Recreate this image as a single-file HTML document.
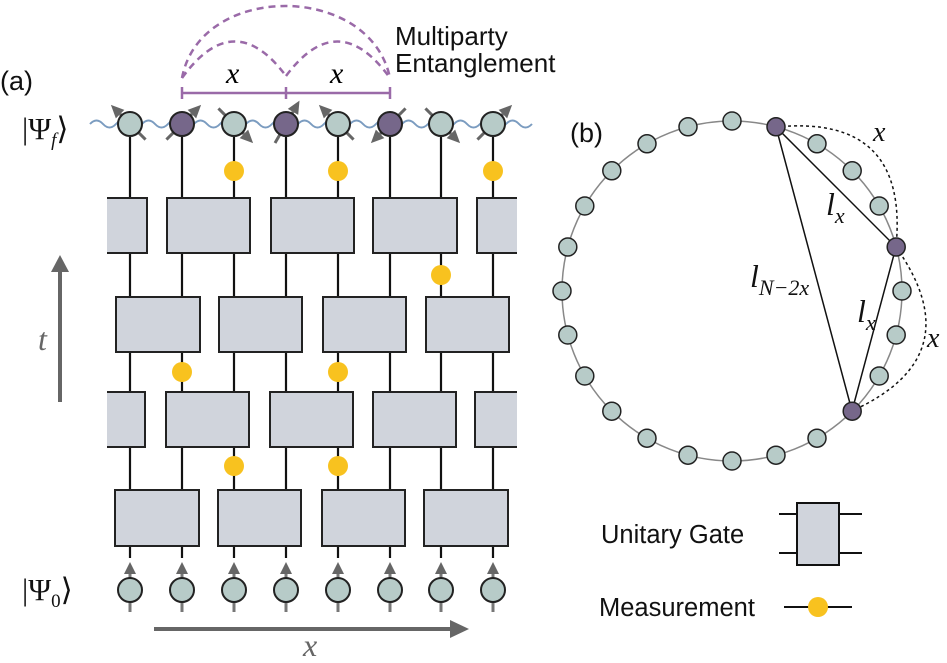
<!DOCTYPE html>
<html><head><meta charset="utf-8"><style>
body{margin:0;background:#fff}
svg{display:block}
.s{font-family:"Liberation Sans",sans-serif;fill:#111}
.m{font-family:"Liberation Serif",serif;font-style:italic}
</style></head><body>
<svg width="947" height="663" viewBox="0 0 947 663" xmlns="http://www.w3.org/2000/svg">
<defs>
<g id="tq"><line x1="0" y1="22" x2="0" y2="-14" stroke="#666" stroke-width="3"/><polygon points="0,-27 -6,-14 6,-14" fill="#666"/></g>
<g id="bq"><line x1="0" y1="572" x2="0" y2="612" stroke="#777" stroke-width="3"/><polygon points="0,562 -6,574 6,574" fill="#666"/><circle cx="0" cy="590" r="12" fill="#b7cbc8" stroke="#222" stroke-width="2"/></g>
</defs>
<g stroke="#111" stroke-width="2.2">
<line x1="130" y1="137" x2="130" y2="558"/><line x1="182" y1="137" x2="182" y2="558"/>
<line x1="234" y1="137" x2="234" y2="558"/><line x1="286" y1="137" x2="286" y2="558"/>
<line x1="338" y1="137" x2="338" y2="558"/><line x1="390" y1="137" x2="390" y2="558"/>
<line x1="441" y1="137" x2="441" y2="558"/><line x1="493" y1="137" x2="493" y2="558"/>
</g>
<g fill="#d0d4dc" stroke="#222" stroke-width="2">
<path d="M107,198 H147 V253 H107"/><rect x="167" y="198" width="83" height="55"/><rect x="271" y="198" width="83" height="55"/><rect x="373" y="198" width="84" height="55"/><path d="M517,198 H477 V253 H517"/>
<rect x="116" y="297" width="84" height="55"/><rect x="219" y="297" width="83" height="55"/><rect x="323" y="297" width="83" height="55"/><rect x="426" y="297" width="83" height="55"/>
<path d="M107,392 H145 V447 H107"/><rect x="166" y="392" width="83" height="55"/><rect x="270" y="392" width="83" height="55"/><rect x="373" y="392" width="83" height="55"/><path d="M517,392 H475 V447 H517"/>
<rect x="115" y="490" width="84" height="56"/><rect x="218" y="490" width="83" height="56"/><rect x="322" y="490" width="83" height="56"/><rect x="424" y="490" width="84" height="56"/>
</g>
<g fill="#fff" stroke="none"><rect x="100" y="196" width="7" height="60"/><rect x="100" y="390" width="7" height="60"/><rect x="518" y="196" width="8" height="60"/><rect x="518" y="390" width="8" height="60"/></g>
<g fill="#f8c21f">
<circle cx="234" cy="171" r="10"/><circle cx="338" cy="171" r="10"/><circle cx="493" cy="171" r="10"/>
<circle cx="441" cy="275" r="10"/><circle cx="182" cy="372" r="10"/><circle cx="338" cy="372" r="10"/>
<circle cx="234" cy="466" r="10"/><circle cx="338" cy="466" r="10"/>
</g>
<path d="M90 124 q6.5 -7 13 0 t13 0 t13 0 t13 0 t13 0 t13 0 t13 0 t13 0 t13 0 t13 0 t13 0 t13 0 t13 0 t13 0 t13 0 t13 0 t13 0 t13 0 t13 0 t13 0 t13 0 t13 0 t13 0 t13 0 t13 0 t13 0 t13 0 t13 0 t13 0 t13 0 t13 0 t13 0 t13 0 t13 0" fill="none" stroke="#7b9cc0" stroke-width="2"/>
<use href="#tq" transform="translate(130,124) rotate(-45)"/><use href="#tq" transform="translate(182,124) rotate(45)"/>
<use href="#tq" transform="translate(234,124) rotate(135)"/><use href="#tq" transform="translate(286,124) rotate(30)"/>
<use href="#tq" transform="translate(338,124) rotate(-45)"/><use href="#tq" transform="translate(390,124) rotate(-135)"/>
<use href="#tq" transform="translate(441,124) rotate(135)"/><use href="#tq" transform="translate(493,124) rotate(45)"/>
<g stroke="#222" stroke-width="2">
<circle cx="130" cy="124" r="12" fill="#b7cbc8"/><circle cx="182" cy="124" r="12" fill="#76678a"/>
<circle cx="234" cy="124" r="12" fill="#b7cbc8"/><circle cx="286" cy="124" r="12" fill="#76678a"/>
<circle cx="338" cy="124" r="12" fill="#b7cbc8"/><circle cx="390" cy="124" r="12" fill="#76678a"/>
<circle cx="441" cy="124" r="12" fill="#b7cbc8"/><circle cx="493" cy="124" r="12" fill="#b7cbc8"/>
</g>
<use href="#bq" x="130"/><use href="#bq" x="182"/><use href="#bq" x="234"/><use href="#bq" x="286"/>
<use href="#bq" x="338"/><use href="#bq" x="390"/><use href="#bq" x="441"/><use href="#bq" x="493"/>
<g stroke="#9a6aa8" stroke-width="2.5" fill="none">
<line x1="182" y1="93" x2="390" y2="93"/><line x1="182" y1="87" x2="182" y2="99"/><line x1="286" y1="87" x2="286" y2="99"/><line x1="390" y1="87" x2="390" y2="99"/>
<g stroke-dasharray="7,5"><path d="M182,78 Q234,6 286,76"/><path d="M286,76 Q338,6 390,78"/><path d="M182,78 C200,-18 370,-18 390,78"/></g>
</g>
<text x="226" y="83" class="m" font-size="30">x</text><text x="330" y="83" class="m" font-size="30">x</text>
<text x="395" y="45" class="s" font-size="26">Multiparty</text><text x="395" y="72" class="s" font-size="26">Entanglement</text>
<text x="0" y="90" class="s" font-size="27">(a)</text>
<text x="22" y="139" font-family="Liberation Serif,serif" font-size="31" fill="#111">|Ψ<tspan font-style="italic" font-size="19" dy="7">f</tspan><tspan dy="-7">⟩</tspan></text>
<text x="22" y="600" font-family="Liberation Serif,serif" font-size="31" fill="#111">|Ψ<tspan font-size="19" dy="7">0</tspan><tspan dy="-7">⟩</tspan></text>
<line x1="60" y1="402" x2="60" y2="268" stroke="#666" stroke-width="4"/><polygon points="60,255 51,272 69,272" fill="#666"/>
<text x="38" y="350" class="m" font-size="32" fill="#666">t</text>
<line x1="154" y1="629" x2="452" y2="629" stroke="#666" stroke-width="4"/><polygon points="469,629 450,620 450,638" fill="#666"/>
<text x="303" y="656" class="m" font-size="32" fill="#666">x</text>
<text x="570" y="142" class="s" font-size="27">(b)</text>
<circle cx="732" cy="291" r="170" fill="none" stroke="#888" stroke-width="1.5"/>
<g stroke="#111" stroke-width="1.5" fill="none">
<line x1="776" y1="127" x2="896" y2="247"/><line x1="896" y1="247" x2="852" y2="411"/><line x1="776" y1="127" x2="852" y2="411"/>
<g stroke-dasharray="3,3"><path d="M776,127 Q909,114 896,247"/><path d="M896,247 Q973,356 852,411"/></g>
</g>
<g stroke="#222" stroke-width="1.5" fill="#b7cbc8">
<circle cx="902" cy="291" r="9"/><circle cx="896.2" cy="335" r="9"/><circle cx="879.2" cy="376" r="9"/>
<circle cx="852.2" cy="411.2" r="9" fill="#76678a"/><circle cx="817" cy="438.2" r="9"/><circle cx="776" cy="455.2" r="9"/>
<circle cx="732" cy="461" r="9"/><circle cx="688" cy="455.2" r="9"/><circle cx="647" cy="438.2" r="9"/>
<circle cx="611.8" cy="411.2" r="9"/><circle cx="584.8" cy="376" r="9"/><circle cx="567.8" cy="335" r="9"/>
<circle cx="562" cy="291" r="9"/><circle cx="567.8" cy="247" r="9"/><circle cx="584.8" cy="206" r="9"/>
<circle cx="611.8" cy="170.8" r="9"/><circle cx="647" cy="143.8" r="9"/><circle cx="688" cy="126.8" r="9"/>
<circle cx="732" cy="121" r="9"/><circle cx="776" cy="126.8" r="9" fill="#76678a"/><circle cx="817" cy="143.8" r="9"/>
<circle cx="852.2" cy="170.8" r="9"/><circle cx="879.2" cy="206" r="9"/><circle cx="896.2" cy="247" r="9" fill="#76678a"/>
</g>
<text x="826" y="215" class="m" font-size="32" fill="#111">l<tspan font-size="22" dy="8">x</tspan></text>
<text x="857" y="322" class="m" font-size="32" fill="#111">l<tspan font-size="22" dy="8">x</tspan></text>
<text x="750" y="287" class="m" font-size="32" fill="#111">l<tspan font-size="22" dy="8">N−2x</tspan></text>
<text x="873" y="141" class="m" font-size="28" fill="#111">x</text>
<text x="927" y="347" class="m" font-size="28" fill="#111">x</text>
<text x="601" y="543" class="s" font-size="25.5">Unitary Gate</text>
<g stroke="#111" stroke-width="2"><line x1="779" y1="514" x2="862" y2="514"/><line x1="779" y1="553" x2="862" y2="553"/>
<rect x="797" y="503" width="42" height="62" fill="#d0d4dc"/>
<line x1="784" y1="607" x2="852" y2="607"/></g>
<circle cx="818" cy="607" r="10" fill="#f8c21f"/>
<text x="599" y="616" class="s" font-size="25.5">Measurement</text>
</svg>
</body></html>
